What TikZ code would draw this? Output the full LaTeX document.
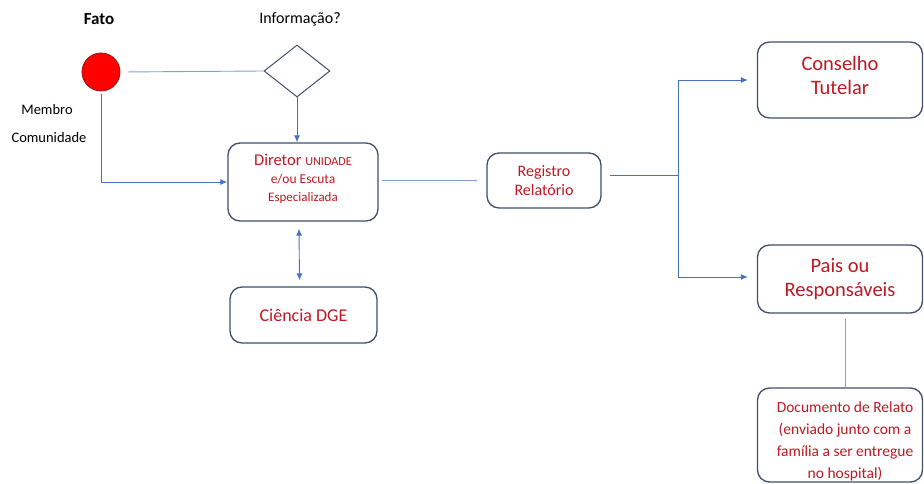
\documentclass[tikz,border=0pt]{standalone}
\usepackage{fontspec}
\setmainfont{Carlito}
\usetikzlibrary{arrows.meta,shapes.geometric}
\definecolor{txtred}{RGB}{192,24,36}
\definecolor{boxline}{RGB}{64,80,104}
\definecolor{flow}{RGB}{70,114,190}
\definecolor{thin}{RGB}{130,160,200}
\definecolor{grayline}{RGB}{150,160,172}
\newcommand{\fsz}[2]{\fontsize{#1}{#2}\selectfont}
\begin{document}
\begin{tikzpicture}[x=1pt,y=-1pt,
  stepbox/.style={draw=boxline,line width=1.3pt,rounded corners=12pt,fill=white,
    align=center,text=txtred,inner sep=2pt},
  flowline/.style={draw=flow,line width=0.9pt},
  arr/.style={flowline,-{Latex[length=7pt,width=6pt]}},
  label/.style={font=\fsz{14.5}{17},text=black}]
\useasboundingbox (0,0) rectangle (924,484);

% start event and decision
\node[circle,fill=red,draw={rgb,255:red,150;green,20;blue,20},line width=0.8pt,
  minimum size=38pt,inner sep=0] (fato) at (101,72) {};
\node[diamond,draw=boxline,line width=1pt,minimum width=66pt,minimum height=52pt,
  inner sep=0] (info) at (297,71) {};
\node[font=\bfseries\fsz{17}{20}] (fatolbl) at (99,19) {Fato};
\node[font=\fsz{16}{19}] (infolbl) at (300,19) {Informação?};
\node[label] (membro) at (47,110) {Membro};
\node[label] (comun) at (49,138) {Comunidade};

% boxes
\node[stepbox,minimum width=150pt,minimum height=78pt,font=\fsz{13.5}{18}]
  (diretor) at (303,182)
  {{\fsz{16.5}{18}Diretor {\fsz{12.2}{18}UNIDADE}}\\
   e/ou Escuta\\
   {\fsz{13}{18}Especializada}\rule[-9pt]{0pt}{1pt}};
\node[stepbox,minimum width=147pt,minimum height=56pt,font=\fsz{18}{20}]
  (ciencia) at (303.5,315) {Ciência DGE};
\node[stepbox,minimum width=114pt,minimum height=55pt,font=\fsz{16}{19}]
  (registro) at (544,180.5) {Registro\\Relatório};
\node[stepbox,minimum width=165pt,minimum height=76pt,font=\fsz{20.5}{24}]
  (conselho) at (840,80) {Conselho\\Tutelar\rule[-9pt]{0pt}{1pt}};
\node[stepbox,minimum width=165pt,minimum height=68pt,font=\fsz{20.5}{24}]
  (pais) at (840,279) {Pais ou\\Responsáveis};
\node[stepbox,minimum width=165pt,minimum height=94pt] (doc) at (840,435) {};
\node[align=center,text=txtred,font=\fsz{15.5}{22}] (doctext) at (845,441)
  {Documento de Relato\\(enviado junto com a\\família a ser entregue\\no hospital)};

\coordinate (split) at (678,175);

% connectors
\draw[draw=thin,line width=0.9pt,shorten <=8pt] (fato.east) -- (info.west);
\draw[arr,shorten <=3pt] (fato.south) |- (diretor.west);
\draw[arr] (info.south) -- (info.south |- diretor.north);
\draw[draw=thin,line width=0.9pt,shorten <=3pt,shorten >=9pt]
  (registro.west -| diretor.east) -- (registro.west);
\draw[flowline,{Latex[length=7pt,width=6pt]}-{Latex[length=7pt,width=6pt]}]
  ([xshift=-4pt,yshift=-7pt]diretor.south) -- ([xshift=-4pt,yshift=6pt]ciencia.north);
\draw[flowline,shorten <=8pt] (registro.east |- split) -- (split);
\draw[arr,shorten >=9pt] (split) |- (conselho.west);
\draw[arr,shorten >=9pt] (split) |- ([yshift=2pt]pais.west);
\draw[draw=grayline,line width=1pt,shorten <=5pt]
  ([xshift=5pt]pais.south) -- ([xshift=5pt]doc.north);
\end{tikzpicture}
\end{document}
